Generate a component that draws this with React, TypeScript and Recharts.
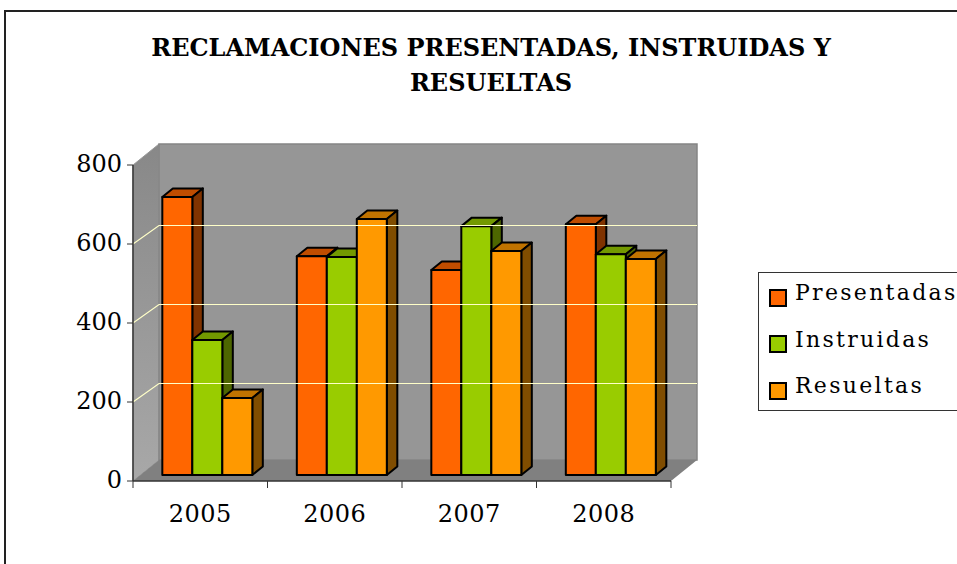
import React from "react";
import { ComposedChart, Bar, XAxis, YAxis, Legend, ReferenceArea, ReferenceLine } from "recharts";

const years = ["2005", "2006", "2007", "2008"];
const presentadas = [704, 554, 519, 635];
const instruidas = [342, 552, 630, 559];
const resueltas = [195, 648, 567, 547];
const yTicks = [0, 200, 400, 600, 800];
const gridValues = [200, 400, 600];
const titleLines = ["RECLAMACIONES PRESENTADAS, INSTRUIDAS Y", "RESUELTAS"];
const seriesNames = ["Presentadas", "Instruidas", "Resueltas"];
const seriesColors = ["#ff6600", "#99cc00", "#ff9900"];
const topColors = ["#c04d00", "#739900", "#c07300"];
const sideColors = ["#803300", "#4d6600", "#804d00"];

const data = years.map((year, i) => ({
  year,
  Presentadas: presentadas[i],
  Instruidas: instruidas[i],
  Resueltas: resueltas[i],
}));

const FONT = "'DejaVu Serif', serif";
const WALL_DX = 26;
const WALL_DY = -21;
const GRID_DY = -18.5;
const SHIFT_X = 7.8;
const SHIFT_Y = -6;
const DEPTH_X = 10.5;
const DEPTH_Y = -8.5;

function Bar3D(props: any, idx: number) {
  const { x, y, width, height } = props;
  const fx = x + SHIFT_X;
  const fy = y + SHIFT_Y;
  const r = fx + width;
  const b = fy + height;
  const common = { stroke: "#000", strokeWidth: 2, strokeLinejoin: "round" as const };
  return (
    <g>
      <polygon points={`${fx},${fy} ${r},${fy} ${r + DEPTH_X},${fy + DEPTH_Y} ${fx + DEPTH_X},${fy + DEPTH_Y}`} fill={topColors[idx]} {...common} />
      <polygon points={`${r},${fy} ${r + DEPTH_X},${fy + DEPTH_Y} ${r + DEPTH_X},${b + DEPTH_Y} ${r},${b}`} fill={sideColors[idx]} {...common} />
      <rect x={fx} y={fy} width={width} height={height} fill={seriesColors[idx]} {...common} />
    </g>
  );
}

function Walls(props: any) {
  const { x, y, width, height } = props;
  const r = x + width;
  const b = y + height;
  return (
    <g>
      <defs>
        <linearGradient id="sideWall" x1="0" y1="0" x2="0" y2="1">
          <stop offset="0" stopColor="#888888" />
          <stop offset="1" stopColor="#a8a8a8" />
        </linearGradient>
      </defs>
      <polygon points={`${x},${y} ${x + WALL_DX},${y + WALL_DY} ${x + WALL_DX},${b + WALL_DY} ${x},${b}`} fill="url(#sideWall)" stroke="#999999" strokeWidth={1} />
      <rect x={x + WALL_DX} y={y + WALL_DY} width={width} height={height} fill="#969696" stroke="#858585" strokeWidth={1.5} />
      <polygon points={`${x},${b} ${r},${b} ${r + WALL_DX},${b + WALL_DY} ${x + WALL_DX},${b + WALL_DY}`} fill="#808080" />
    </g>
  );
}

function GridLine3D(props: any) {
  const { x1, y1, x2 } = props;
  return (
    <polyline
      points={`${x1},${y1} ${x1 + WALL_DX},${y1 + GRID_DY} ${x2 + WALL_DX},${y1 + GRID_DY}`}
      fill="none"
      stroke="#ffffc8"
      strokeWidth={1.2}
    />
  );
}

function YearTick(props: any) {
  const { x, y, payload, index, width } = props;
  const band = width / years.length;
  const left = x - band / 2;
  return (
    <g>
      <line x1={left} y1={y} x2={left} y2={y + 7} stroke="#333" />
      {index === years.length - 1 && <line x1={left + band} y1={y} x2={left + band} y2={y + 7} stroke="#333" />}
      <text x={x} y={y + 41} textAnchor="middle" fontFamily={FONT} fontSize={24} fill="#000" letterSpacing={0.5}>
        {payload.value}
      </text>
    </g>
  );
}

function LegendBox() {
  return (
    <div
      style={{
        width: 220,
        height: 139,
        background: "#fff",
        border: "1px solid #333",
        boxSizing: "border-box",
        position: "relative",
        fontFamily: FONT,
        fontSize: 22,
        letterSpacing: 2.3,
        color: "#000",
      }}
    >
      {seriesNames.map((name, i) => (
        <div key={name} style={{ position: "absolute", left: 10, top: 14 + i * 46.5, display: "flex", alignItems: "center", height: 20 }}>
          <span style={{ width: 18, height: 18, boxSizing: "border-box", border: "2px solid #000", background: seriesColors[i], display: "inline-block", marginRight: 8, marginTop: 1 }} />
          <span style={{ marginTop: -9, whiteSpace: "nowrap" }}>{name}</span>
        </div>
      ))}
    </div>
  );
}

export default function App() {
  return (
    <div style={{ position: "absolute", left: 0, top: 0, width: 957, height: 564, overflow: "hidden", background: "#fff" }}>
      <div style={{ position: "absolute", left: 4, top: 10, width: 1000, height: 600, borderLeft: "2px solid #222", borderTop: "2px solid #222" }} />
      {titleLines.map((line, i) => (
        <div
          key={line}
          style={{
            position: "absolute",
            left: 91,
            width: 800,
            top: 33 + i * 35,
            textAlign: "center",
            fontFamily: FONT,
            fontWeight: 700,
            fontSize: 24,
            lineHeight: "30px",
            color: "#000",
          }}
        >
          {line}
        </div>
      ))}
      <div style={{ position: "absolute", left: 0, top: 0 }}>
        <ComposedChart
          width={957}
          height={564}
          data={data}
          margin={{ left: 0, right: 286, top: 165, bottom: 0 }}
          barCategoryGap="16%"
          barGap={0}
        >
          <ReferenceArea y1={0} y2={800} ifOverflow="visible" shape={Walls} />
          {gridValues.map((v) => (
            <ReferenceLine key={v} y={v} ifOverflow="visible" shape={GridLine3D} />
          ))}
          <XAxis
            dataKey="year"
            height={83}
            stroke="#333"
            tickLine={false}
            tickSize={0}
            tickMargin={0}
            tick={YearTick}
            interval={0}
            axisLine={{ stroke: "#333", strokeWidth: 1.5 }}
          />
          <YAxis
            width={133}
            domain={[0, 800]}
            ticks={yTicks}
            stroke="#333"
            tickSize={6}
            tickMargin={5}
            tick={{ fontFamily: FONT, fontSize: 24, fill: "#000", dy: -2 }}
            axisLine={{ stroke: "#333", strokeWidth: 1.5 }}
          />
          <Legend layout="vertical" align="center" verticalAlign="middle" content={LegendBox} wrapperStyle={{ left: 758, top: 272, width: 220, height: 139 }} />
          <Bar dataKey="Presentadas" isAnimationActive={false} shape={(p: any) => Bar3D(p, 0)} />
          <Bar dataKey="Instruidas" isAnimationActive={false} shape={(p: any) => Bar3D(p, 1)} />
          <Bar dataKey="Resueltas" isAnimationActive={false} shape={(p: any) => Bar3D(p, 2)} />
        </ComposedChart>
      </div>
    </div>
  );
}
